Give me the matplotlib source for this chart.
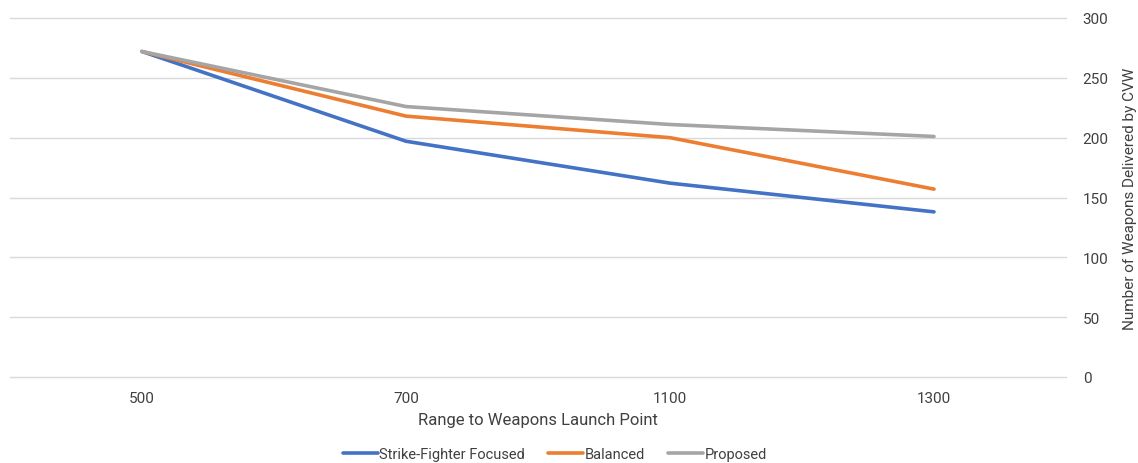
import matplotlib.pyplot as plt
import numpy as np

# weapons delivered per carrier air wing configuration vs. launch range
ranges = ["500", "700", "1100", "1300"]
strike_fighter = [272, 197, 162, 138]
balanced = [272, 218, 200, 157]
proposed = [272, 226, 211, 201]

plt.rcParams['font.family'] = ['Roboto', 'DejaVu Sans']

fig = plt.figure(figsize=(11.38, 4.64), dpi=100)
ax = fig.add_axes([10/1138, 86/464, 1056/1138, 359/464])

xx = np.arange(len(ranges))
ax.plot(xx, strike_fighter, color="#4472C4", lw=2.6, label="Strike-Fighter Focused", solid_capstyle="round")
ax.plot(xx, balanced, color="#ED7D31", lw=2.6, label="Balanced", solid_capstyle="round")
ax.plot(xx, proposed, color="#A5A5A5", lw=2.6, label="Proposed", solid_capstyle="round")

ax.set_xlim(-0.5, len(ranges) - 0.5)
ax.set_ylim(0, 300)
ax.set_yticks(np.arange(0, 301, 50))
ax.set_xticks(xx)
ax.set_xticklabels(ranges)

ax.yaxis.tick_right()
ax.yaxis.set_label_position("right")
ax.grid(axis="y", color="#d9d9d9", lw=1)
for gl in ax.get_ygridlines():
    gl.set_clip_on(False)
ax.set_axisbelow(True)
for s in ax.spines.values():
    s.set_visible(False)
ax.tick_params(axis="both", length=0, labelsize=11, colors="#404040")
ax.tick_params(axis="y", pad=12)
ax.tick_params(axis="x", pad=10)

ax.set_xlabel("Range to Weapons Launch Point", fontsize=12, color="#404040", labelpad=5)
ax.set_ylabel("Number of Weapons Delivered by CVW", fontsize=11, color="#404040", labelpad=10)

fig.legend(loc="center", bbox_to_anchor=(555/1138, 1 - 455/464), ncol=3, frameon=False,
           fontsize=10.5, handlelength=2.4, handletextpad=0.1, columnspacing=1.6,
           labelcolor="#404040")

plt.savefig("out.png", dpi=100)
